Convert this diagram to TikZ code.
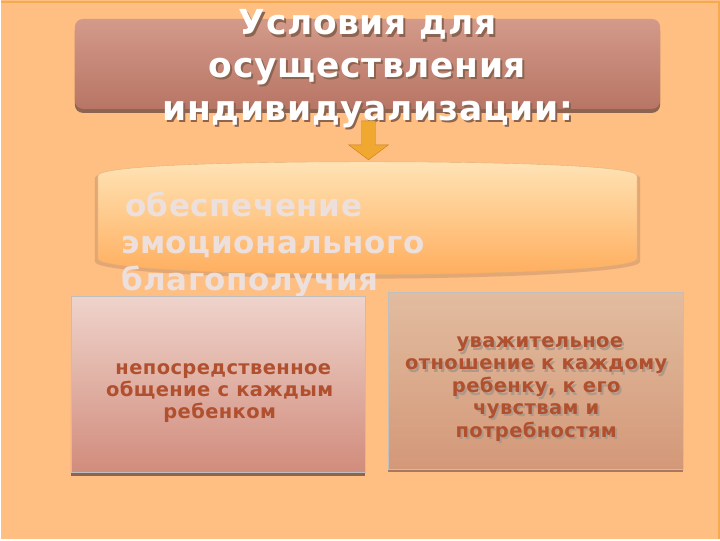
\documentclass[tikz,border=0pt]{standalone}
\usepackage{fontspec}
\setmainfont{DejaVu Sans}
\newfontfamily\slidefont{DejaVu Sans}[LetterSpace=2]
\usetikzlibrary{positioning,calc}

\definecolor{slidebg}{HTML}{FFBE82}
\definecolor{slideedge}{HTML}{F5AA50}
\definecolor{titletop}{HTML}{D39A8A}
\definecolor{titlebot}{HTML}{B87565}
\definecolor{darkshade}{HTML}{8C6450}
\definecolor{arrowfill}{HTML}{F0A830}
\definecolor{arrowline}{HTML}{C88020}
\definecolor{goaltop}{HTML}{FFE3B5}
\definecolor{goalbot}{HTML}{FFAE5E}
\definecolor{goaltext}{HTML}{EDE0DC}
\definecolor{lefttop}{HTML}{EFD3CB}
\definecolor{leftbot}{HTML}{D18C7C}
\definecolor{righttop}{HTML}{E2BC9F}
\definecolor{rightbot}{HTML}{D39878}
\definecolor{rusttext}{HTML}{B0502F}
\definecolor{softshade}{HTML}{B09888}

% text with a drop shadow behind it
\newcommand\dropline[2]{\makebox[0pt][l]{\raisebox{-2.5pt}{\kern2pt\textcolor{#1}{#2}}}#2}

\begin{document}
\begin{tikzpicture}[x=1pt,y=-1pt,
    titletext/.style={align=center,inner sep=0pt,text=white,
        font=\slidefont\bfseries\fontsize{34.5}{43}\selectfont},
    goalfont/.style={align=left,inner sep=0pt,
        font=\slidefont\bfseries\fontsize{31}{37}\selectfont},
    cardbox/.style={draw=black!25,line width=0.4pt},
    cardtext/.style={align=center,inner sep=0pt,text=rusttext,
        font=\slidefont\bfseries\fontsize{19.5}{22}\selectfont}]
% background
\fill[slidebg] (0,0) rectangle (720,540);
\draw[slideedge,line width=2pt] (0,2) -- (719,2) -- (719,540);
\useasboundingbox (0,0) rectangle (720,540);

% title box
\fill[darkshade,rounded corners=8pt] (74,23) rectangle (660,113);
\shade[top color=titletop,bottom color=titlebot,rounded corners=8pt]
    (74,19) rectangle (660,109);
\node[titletext] (title) at (367,70)
    {\dropline{darkshade}{Условия для}\\\dropline{darkshade}{осуществления}\\
     \dropline{darkshade}{индивидуализации:}};

% arrow
\coordinate (arrowtop) at (368,121);
\coordinate (arrowtip) at (368,160);
\draw[arrowline,fill=arrowfill,line join=miter]
    ($(arrowtop)+(-7,0)$) -- ($(arrowtop)+(7,0)$) -- ($(arrowtop)+(7,24)$)
    -- ($(arrowtop)+(20,24)$) -- (arrowtip) -- ($(arrowtop)+(-20,24)$)
    -- ($(arrowtop)+(-7,24)$) -- cycle;

% goal shape
\fill[darkshade,opacity=0.25] (94,178) .. controls (94,167) and (250,164) .. (367,164)
    .. controls (484,164) and (640,167) .. (640,178) -- (640,262)
    .. controls (640,273) and (484,279) .. (367,279)
    .. controls (250,279) and (94,273) .. (94,262) -- cycle;
\shade[top color=goaltop,bottom color=goalbot,draw=arrowline!60,line width=0.4pt]
    (97,176) .. controls (97,165) and (250,162) .. (367,162)
    .. controls (484,162) and (637,165) .. (637,176) -- (637,259)
    .. controls (637,270) and (484,275) .. (367,275)
    .. controls (250,275) and (97,270) .. (97,259) -- cycle;
\node[goalfont,text=goaltext,anchor=west] (goal) at (120,245)
    {\kern4pt обеспечение\\эмоционального\\благополучия};

% left card
\fill[darkshade] (70,301) rectangle (365,477);
\shade[cardbox,top color=lefttop,bottom color=leftbot]
    (70,297) rectangle (365,473);
\node[cardtext] (contact) at (219,394)
    {\ непосредственное\\общение с каждым\\ребенком};

% right card
\fill[darkshade!60!rightbot] (388,297) rectangle (683,473);
\shade[cardbox,top color=righttop,bottom color=rightbot]
    (388,293) rectangle (683,470);
\node[cardtext,font=\slidefont\bfseries\fontsize{19.5}{21.75}\selectfont]
    (respect) at (536,391)
    {\ \dropline{softshade}{уважительное}\\\dropline{softshade}{отношение к каждому}\\
     \dropline{softshade}{ребенку, к его}\\\dropline{softshade}{чувствам и}\\
     \dropline{softshade}{потребностям}};
\end{tikzpicture}
\end{document}
